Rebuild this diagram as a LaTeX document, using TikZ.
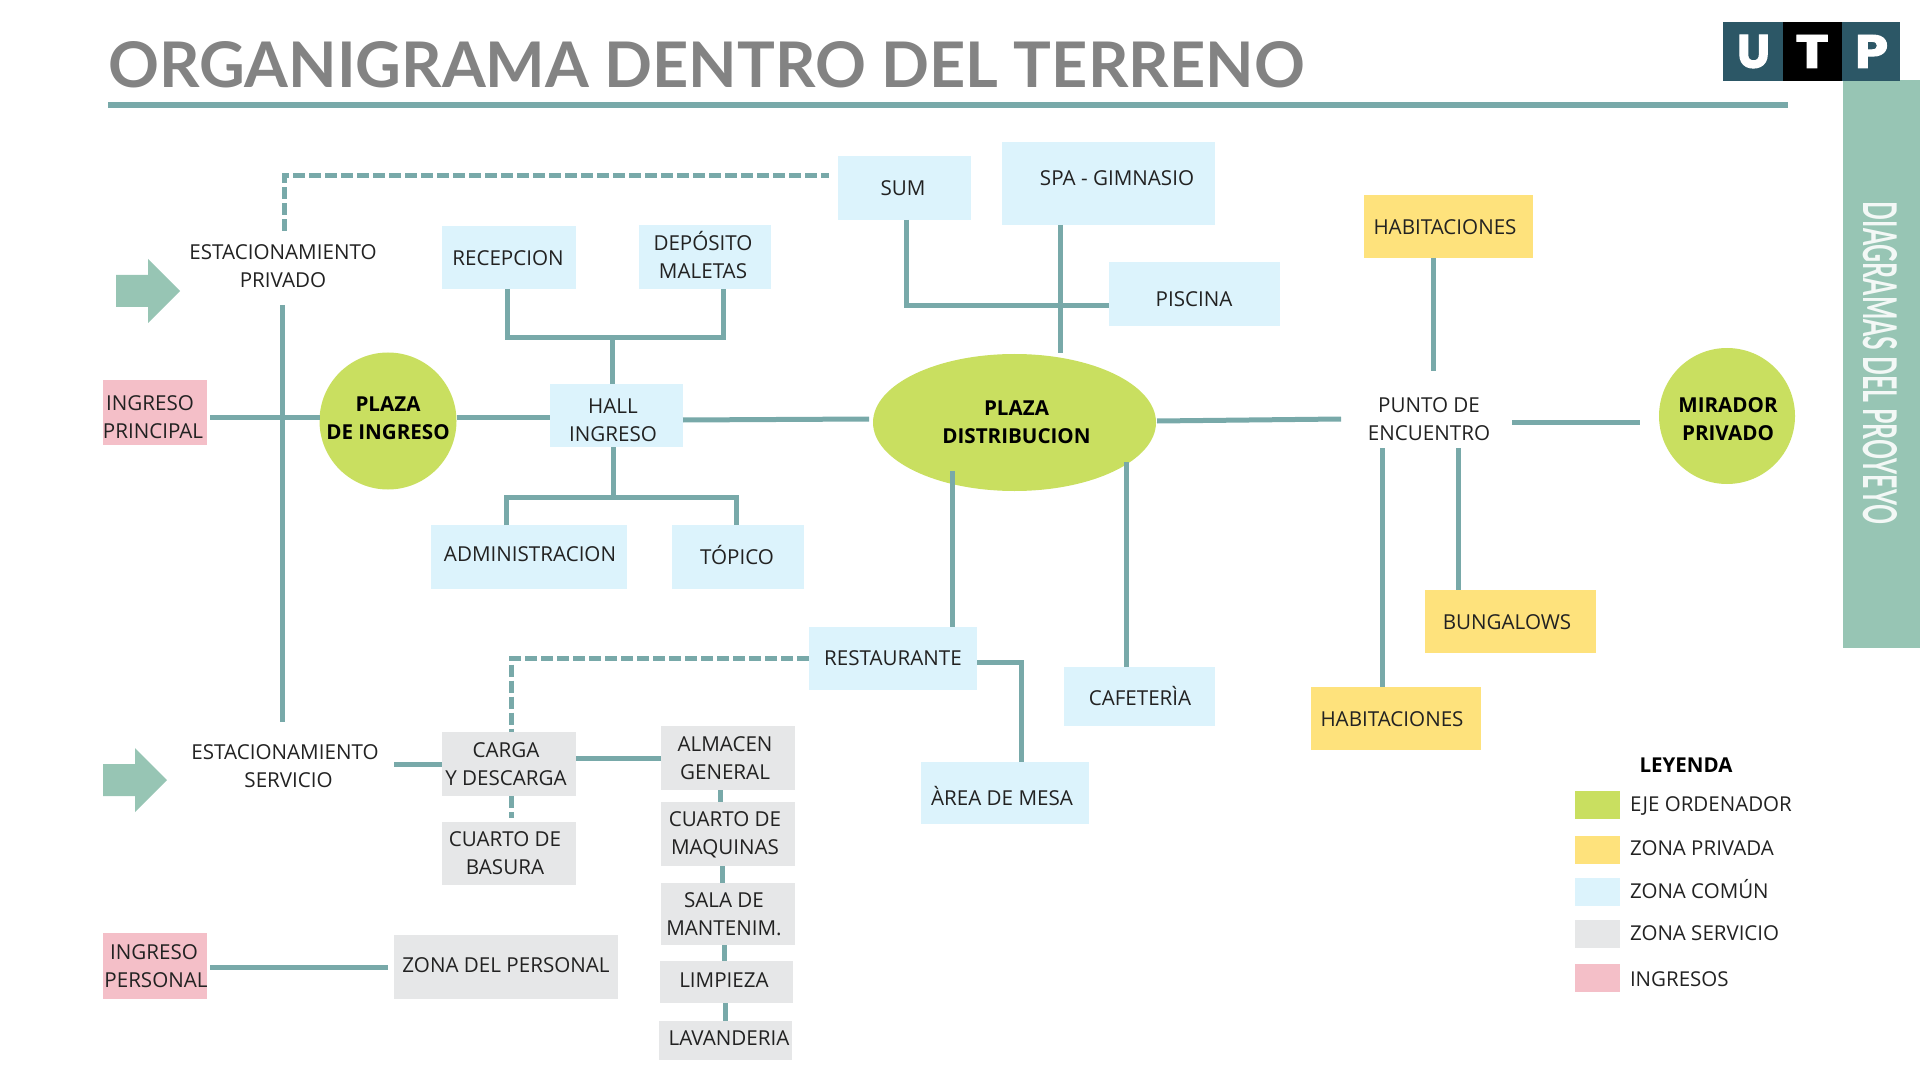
\documentclass[tikz,border=0pt]{standalone}
\usepackage{fontspec}
\setmainfont{Open Sans}
\newfontfamily\popf[BoldFeatures={FakeBold=2}]{Poppins}
\newfontfamily\latof{Lato}
\definecolor{cgreen}{HTML}{C9DF60}
\definecolor{cyellow}{HTML}{FEE27C}
\definecolor{cblue}{HTML}{DCF3FC}
\definecolor{cgray}{HTML}{E6E7E8}
\definecolor{cpink}{HTML}{F4BFC8}
\definecolor{cband}{HTML}{97C5B4}
\definecolor{cline}{HTML}{78A9A9}
\definecolor{cdark}{HTML}{2C5766}
\definecolor{ctext}{HTML}{222222}
\definecolor{ctitle}{HTML}{838383}
\newcommand\tbx[3]{\raisebox{\dimexpr#2-3.6pt\relax}[0pt][0pt]{\makebox[0pt][c]{\kern\dimexpr#1*2\relax\begin{tabular}{@{}c@{}}#3\end{tabular}}}}
\newcommand\bx[9]{%
  \pgfmathsetmacro\cx{(#3+#5)/2}\pgfmathsetmacro\cy{(#4+#6)/2}%
  \pgfmathsetmacro\bw{(#5-#3)*0.5}\pgfmathsetmacro\bh{(#6-#4)*0.5}%
  \pgfmathsetmacro\ddx{(#7-\cx)*0.5}\pgfmathsetmacro\ddy{(\cy-#8)*0.5}%
  \node[#2,minimum width=\bw pt,minimum height=\bh pt] (#1) at (\cx,\cy) {\tbx{\ddx pt}{\ddy pt}{#9}};}
\tikzset{
  base/.style={rectangle,inner sep=0pt,outer sep=0pt,text=ctext,font=\fontsize{10.3}{14}\selectfont},
  blue/.style={base,fill=cblue},
  yel/.style={base,fill=cyellow},
  gry/.style={base,fill=cgray},
  pnk/.style={base,fill=cpink},
  plain/.style={base},
  plazac/.style={circle,fill=cgreen,inner sep=0pt,outer sep=0pt,text=black,font=\fontsize{10.3}{14}\selectfont\bfseries},
  plazae/.style={ellipse,fill=cgreen,inner sep=0pt,outer sep=0pt,text=black,font=\fontsize{10.3}{14}\selectfont\bfseries},
  link/.style={draw=cline,line width=2.5pt},
  dlink/.style={link,dash pattern=on 6pt off 2pt},
  legtxt/.style={inner sep=0pt,outer sep=0pt,anchor=west,text=ctext,font=\fontsize{10.25}{12}\selectfont},
  swatch/.style={rectangle,inner sep=0pt,outer sep=0pt,minimum width=22.5pt,minimum height=14pt},
}
\usetikzlibrary{shapes.geometric}
\begin{document}
\begin{tikzpicture}[x=0.5pt,y=-0.5pt]
\useasboundingbox (0,0) rectangle (1920,1080);
% title
\node[inner sep=0pt,anchor=west,text=ctitle] (title) at (108,65) {\resizebox{598pt}{23pt}{\latof\bfseries ORGANIGRAMA DENTRO DEL TERRENO}};
\coordinate (ruleA) at (108,105);
\coordinate (ruleB) at (1788,105);
\draw[link,line width=2.6pt] (ruleA) -- (ruleB);
% side band
\fill[cband] (1843,80) rectangle (1920,648);
\node[inner sep=0pt,rotate=-90,text=white!88!cband] (band) at (1880,363) {\resizebox{161pt}{17pt}{\latof\bfseries DIAGRAMAS DEL PROYEYO}};
% logo
\fill[cdark] (1723,22) rectangle (1783,81);
\fill[black] (1783,22) rectangle (1842,81);
\fill[cdark] (1842,22) rectangle (1900,81);
\node[inner sep=0pt,text=white] (lu) at (1753.5,51.5) {\resizebox{16.5pt}{16.5pt}{\popf\bfseries U}};
\node[inner sep=0pt,text=white] (lt) at (1812,51.5) {\resizebox{16.5pt}{16.5pt}{\popf\bfseries T}};
\node[inner sep=0pt,text=white] (lp) at (1871.5,51.5) {\resizebox{16.5pt}{16.5pt}{\popf\bfseries P}};
% arrows
\fill[cband] (116,275) -- (148,275) -- (148,259) -- (180,291) -- (148,323) -- (148,307) -- (116,307) -- cycle;
\fill[cband] (103,764) -- (135,764) -- (135,748) -- (167,780) -- (135,812) -- (135,796) -- (103,796) -- cycle;
% boxes
\bx{sum}{blue}{838}{156}{971}{220}{903}{188}{SUM}
\bx{spa}{blue}{1002}{142}{1215}{225}{1117}{178}{SPA - GIMNASIO}
\bx{pis}{blue}{1109}{262}{1280}{326}{1194}{299}{PISCINA}
\bx{rec}{blue}{442}{226}{576}{289}{508}{258}{RECEPCION}
\bx{dep}{blue}{639}{225}{771}{289}{703}{257}{DEPÓSITO\\MALETAS}
\bx{hab1}{yel}{1364}{195}{1533}{258}{1445}{227}{HABITACIONES}
\bx{hall}{blue}{550}{384}{683}{447}{613}{420}{HALL\\INGRESO}
\bx{adm}{blue}{431}{525}{627}{589}{530}{554}{ADMINISTRACION}
\bx{top}{blue}{672}{525}{804}{589}{737}{557}{TÓPICO}
\bx{bung}{yel}{1425}{590}{1596}{653}{1507}{622}{BUNGALOWS}
\bx{hab2}{yel}{1311}{687}{1481}{750}{1392}{719}{HABITACIONES}
\bx{rest}{blue}{809}{627}{977}{690}{893}{658}{RESTAURANTE}
\bx{caf}{blue}{1064}{667}{1215}{726}{1140}{698}{CAFETERÌA}
\bx{mesa}{blue}{921}{762}{1089}{824}{1002}{798}{ÀREA DE MESA}
\bx{car}{gry}{442}{732}{576}{796}{506}{764}{CARGA\\Y DESCARGA}
\bx{bas}{gry}{442}{822}{576}{885}{505}{853}{CUARTO DE\\BASURA}
\bx{alm}{gry}{661}{726}{795}{790}{725}{758}{ALMACEN\\GENERAL}
\bx{maq}{gry}{661}{802}{795}{866}{725}{833}{CUARTO DE\\MAQUINAS}
\bx{sal}{gry}{661}{883}{795}{945}{724}{914}{SALA DE\\MANTENIM.}
\bx{lim}{gry}{660}{961}{793}{1003}{724}{980}{LIMPIEZA}
\bx{lav}{gry}{659}{1021}{792}{1060}{729}{1038}{LAVANDERIA}
\bx{zon}{gry}{394}{935}{618}{999}{506}{965}{ZONA DEL PERSONAL}
\bx{ing}{pnk}{103}{380}{207}{445}{153}{417}{\kern-3pt INGRESO\\PRINCIPAL}
\bx{inp}{pnk}{103}{933}{207}{999}{156}{966}{\kern-2pt INGRESO\\PERSONAL}
\bx{ep}{plain}{186}{240}{380}{296}{283}{266}{ESTACIONAMIENTO\\PRIVADO}
\bx{es}{plain}{190}{738}{380}{794}{285}{766}{ESTACIONAMIENTO\\\kern3.6pt SERVICIO}
\bx{pu}{plain}{1345}{390}{1512}{448}{1429}{419}{PUNTO DE\\ENCUENTRO}
% plazas
\bx{pi}{plazac}{319.5}{352.5}{456.5}{489.5}{388}{418}{PLAZA\\DE INGRESO}
\bx{pd}{plazae}{873}{354}{1156}{491}{1016.5}{422}{PLAZA\\DISTRIBUCION}
\bx{mi}{plazac}{1659}{348}{1795}{484}{1728}{419}{MIRADOR\\PRIVADO}
% connectors
\coordinate (jrd) at (612,338);
\coordinate (jad) at (613,497);
\coordinate (dse) at (829,176);
\draw[link] ([xshift=-1pt]rec.south) |- ([xshift=9pt]dep.south |- jrd) -- ([xshift=9pt]dep.south);
\draw[link] (jrd) -- (jrd |- hall.north);
\draw[link] (jad |- hall.south) -- (jad);
\draw[link] ([xshift=-11.5pt]adm.north) |- (jad) -| ([xshift=-1pt]top.north);
\draw[link] ([xshift=1.5pt,yshift=2pt]pi.west -| ing.east) -- ([yshift=2pt]pi.west);
\draw[link] ([yshift=2pt]pi.east) -- ([yshift=2pt]pi.east -| hall.west);
\draw[link] ([xshift=-0.5pt,yshift=-4.5pt]ep.south) -- ([xshift=-1.5pt,yshift=8pt]es.north);
\draw[dlink] ([xshift=0.5pt,yshift=4.5pt]ep.north) |- (dse);
\draw[link] ([yshift=-2.25pt]hall.east) -- ([xshift=-2pt,yshift=1.75pt]pd.west);
\draw[link] ([xshift=0.5pt,yshift=0.75pt]pd.east) -- ([xshift=-2pt]pu.west);
\draw[link] ([yshift=-1.5pt]pu.east) -- ([xshift=-9.5pt,yshift=-3pt]mi.west);
\draw[link] ([xshift=-7.75pt]hab1.south) -- ([xshift=2.25pt,yshift=9.5pt]pu.north);
\draw[link] ([xshift=-23.25pt]pu.south) -- ([xshift=-7pt]hab2.north);
\draw[link] ([xshift=14.75pt]pu.south) -- ([xshift=-26.25pt]bung.north);
\draw[link] ([xshift=.75pt]sum.south) |- ([yshift=-6pt]pis.west);
\draw[link] ([xshift=-24.25pt]spa.south) -- ([xshift=-24.25pt,yshift=0.5pt]spa.south |- pd.north);
\draw[link] ([xshift=-31.25pt,yshift=10pt]pd.south) -- ([xshift=29.5pt]rest.north);
\draw[link] ([xshift=55.75pt,yshift=14.5pt]pd.south) -- ([xshift=-6.75pt]caf.north);
\draw[dlink] (rest.west) -| ([xshift=1pt]car.north);
\draw[dlink] ([xshift=1pt]car.south) -- ([xshift=1pt,yshift=2pt]bas.north);
\draw[link] ([yshift=-1.75pt]rest.east) -| ([xshift=8pt]mesa.north);
\draw[link] ([xshift=7pt]es.east |- car.west) -- (car.west);
\draw[link] ([yshift=3pt]car.east) -- ([yshift=3pt]car.east -| alm.west);
\draw[link] ([xshift=-4pt]alm.south) -- ([xshift=-4pt]maq.north);
\draw[link] ([xshift=-3pt]maq.south) -- ([xshift=-3pt]sal.north);
\draw[link] ([xshift=-2pt]sal.south) -- ([xshift=-2pt]sal.south |- lim.north);
\draw[link] ([xshift=-0.75pt]lim.south) -- ([xshift=-0.75pt]lim.south |- lav.north);
\draw[link] ([xshift=1.5pt,yshift=-0.5pt]inp.east) -- ([xshift=-3pt,yshift=-0.5pt]inp.east -| zon.west);
% legend
\node[inner sep=0pt,text=black,font=\fontsize{10.25}{12}\selectfont\bfseries] (legt) at (1686,765) {LEYENDA};
\node[swatch,fill=cgreen] (s1) at (1597.5,805) {};
\node[swatch,fill=cyellow] (s2) at (1597.5,850) {};
\node[swatch,fill=cblue] (s3) at (1597.5,892) {};
\node[swatch,fill=cgray] (s4) at (1597.5,934) {};
\node[swatch,fill=cpink] (s5) at (1597.5,978) {};
\node[legtxt] (l1) at (1630,806) {EJE ORDENADOR};
\node[legtxt] (l2) at (1630,848) {ZONA PRIVADA};
\node[legtxt] (l3) at (1630,889) {ZONA COMÚN};
\node[legtxt] (l4) at (1630,933) {ZONA SERVICIO};
\node[legtxt] (l5) at (1630,979) {INGRESOS};
\end{tikzpicture}
\end{document}
